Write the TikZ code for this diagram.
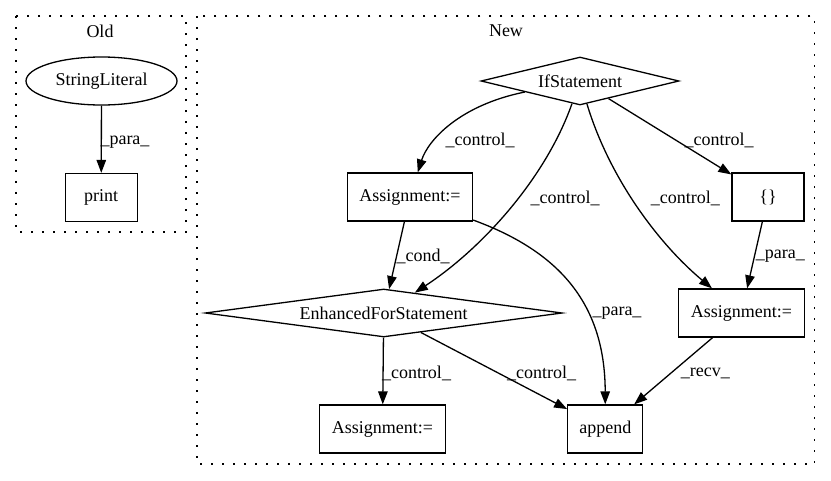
\documentclass[tikz,border=0pt]{standalone}
\usepackage{fontspec}
\setmainfont{Liberation Serif}
\usetikzlibrary{shapes.geometric,arrows.meta}
\begin{document}
\begin{tikzpicture}[x=1pt,y=-1pt,
  every node/.style={font=\fontsize{18}{21}\selectfont},
  cluster/.style={draw, line width=1.3pt, dash pattern=on 2pt off 9pt},
  boxnode/.style={draw, line width=1.3pt, rectangle, inner sep=0pt, minimum height=48pt},
  ellnode/.style={draw, line width=1.3pt, ellipse, inner sep=0pt, minimum width=151pt, minimum height=48pt},
  dianode/.style={draw, line width=1.3pt, diamond, inner sep=0pt, minimum height=48pt},
  edge/.style={draw, line width=1.3pt, -{Triangle[length=13pt,width=9.5pt]}},
  lbl/.style={inner sep=0pt}
]
\useasboundingbox (0,0) rectangle (831,480);
% clusters
\draw[cluster] (16,16) rectangle (186,232);
\draw[cluster] (197,16) rectangle (814.7,464);
\node[lbl] (toldt) at (100,31) {Old};
\node[lbl] (tnewt) at (506,31) {New};
% Old nodes
\node[ellnode] (sl) at (101.5,81) {StringLiteral};
\node[boxnode, minimum width=72pt] (print) at (101.2,197.5) {print};
% New nodes
\node[dianode, shape aspect=4, minimum width=198pt] (ifs) at (580,81) {IfStatement};
\node[boxnode, minimum width=125pt] (asg1) at (410,197) {Assignment:=};
\node[boxnode, minimum width=72pt] (brace) at (768,197) {\{\}};
\node[dianode, shape aspect=7.5, minimum width=357pt] (efs) at (383.7,313) {EnhancedForStatement};
\node[boxnode, minimum width=125.6pt] (asg2) at (741.5,313) {Assignment:=};
\node[boxnode, minimum width=125.6pt] (asg3) at (382.5,429) {Assignment:=};
\node[boxnode, minimum width=75pt] (append) at (605.3,429) {append};
% edges
\draw[edge] (sl) -- (print);
\draw[edge] (ifs) .. controls (460,105) and (428,140) .. (asg1);
\draw[edge] (ifs) .. controls (545,180) and (480,250) .. (efs);
\draw[edge] (ifs) .. controls (610,180) and (660,245) .. (asg2);
\draw[edge] (ifs) -- (brace);
\draw[edge] (asg1) -- (efs);
\draw[edge] (asg1) .. controls (555,250) and (605,300) .. (append);
\draw[edge] (brace) -- (asg2);
\draw[edge] (efs) -- (asg3);
\draw[edge] (efs) -- (append);
\draw[edge] (asg2) -- (append);
% edge labels
\node[lbl] (l1) at (125,142) {\_para\_};
\node[lbl] (l2) at (480,140) {\_control\_};
\node[lbl] (l3) at (565,198) {\_control\_};
\node[lbl] (l4) at (685.3,198) {\_control\_};
\node[lbl] (l5) at (719,140) {\_control\_};
\node[lbl] (l6) at (423,256) {\_cond\_};
\node[lbl] (l7) at (617,313) {\_para\_};
\node[lbl] (l8) at (780.3,256) {\_para\_};
\node[lbl] (l9) at (416.5,373) {\_control\_};
\node[lbl] (l10) at (541.5,373) {\_control\_};
\node[lbl] (l11) at (705.3,373) {\_recv\_};
\end{tikzpicture}
\end{document}
